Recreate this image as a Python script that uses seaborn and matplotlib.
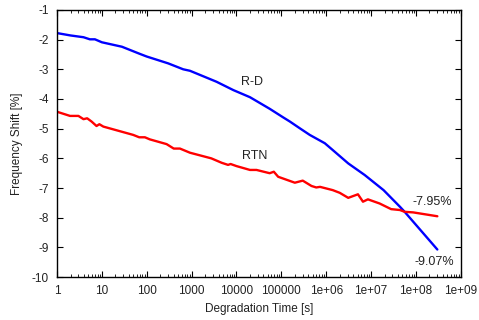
import numpy as np
import pandas as pd
import seaborn as sns
import matplotlib
matplotlib.use("Agg")
import matplotlib.pyplot as plt
from matplotlib.ticker import LogLocator, FixedLocator, FixedFormatter, NullFormatter

# R-D curve (degradation time [s], frequency shift [%])
rd_time = [1, 2, 3.9, 5.4, 7, 10, 28, 70, 100, 300, 650, 920, 3600, 8500,
           2e4, 5.5e4, 1.1e5, 1.55e5, 2.6e5, 4.3e5, 9.3e5, 1.4e6, 3.1e6,
           7.2e6, 1.9e7, 4.4e7, 5.6e7, 3e8]
rd_shift = [-1.78, -1.86, -1.92, -1.99, -1.99, -2.09, -2.24, -2.48, -2.57,
            -2.80, -3.00, -3.05, -3.42, -3.70, -3.94, -4.33, -4.62, -4.76,
            -4.99, -5.21, -5.49, -5.72, -6.17, -6.56, -7.07, -7.63, -7.80,
            -9.07]

# RTN curve
rtn_time = [1, 1.95, 3, 3.9, 4.7, 5.9, 7.6, 8.8, 10.8, 50, 68, 91, 117, 277,
            400, 550, 920, 2.75e3, 4.7e3, 6.5e3, 7.4e3, 1e4, 2e4, 2.8e4,
            5.5e4, 6.8e4, 8.5e4, 2e5, 3e5, 4.7e5, 6e5, 7.3e5, 1.4e6, 2e6,
            3.1e6, 5.1e6, 6.6e6, 8.5e6, 1.55e7, 2.8e7, 4.4e7, 5.6e7, 8.7e7,
            3e8]
rtn_shift = [-4.43, -4.57, -4.57, -4.68, -4.65, -4.76, -4.91, -4.85, -4.93,
             -5.21, -5.29, -5.29, -5.36, -5.52, -5.67, -5.67, -5.81, -6.00,
             -6.15, -6.22, -6.19, -6.26, -6.39, -6.39, -6.50, -6.45, -6.62,
             -6.82, -6.75, -6.93, -6.98, -6.96, -7.07, -7.16, -7.33, -7.21,
             -7.46, -7.38, -7.52, -7.71, -7.74, -7.80, -7.82, -7.95]

df = pd.concat([
    pd.DataFrame({"time": rd_time, "shift": rd_shift, "curve": "R-D"}),
    pd.DataFrame({"time": rtn_time, "shift": rtn_shift, "curve": "RTN"}),
])

sns.set_style("white")
plt.rcParams["font.family"] = ["Liberation Sans", "DejaVu Sans"]

fig = plt.figure(figsize=(4.79, 3.2), dpi=100)
ax = fig.add_axes([0.119, 0.134, 0.843, 0.835])
sns.lineplot(data=df, x="time", y="shift", hue="curve",
             palette={"R-D": "#0000ff", "RTN": "#ff0000"},
             estimator=None, sort=False, legend=False, linewidth=1.7, ax=ax)

ax.set_xscale("log")
ax.set_xlim(1, 1e9)
ax.set_ylim(-10, -1)

decades = [10.0 ** k for k in range(10)]
decade_labels = ["1", "10", "100", "1000", "10000", "100000",
                 "1e+06", "1e+07", "1e+08", "1e+09"]
ax.xaxis.set_major_locator(FixedLocator(decades))
ax.xaxis.set_major_formatter(FixedFormatter(decade_labels))
ax.xaxis.set_minor_locator(LogLocator(base=10, subs=np.arange(2, 10), numticks=20))
ax.xaxis.set_minor_formatter(NullFormatter())
ax.set_yticks(np.arange(-10, 0, 1))
ax.set_yticklabels([str(v) for v in range(-10, 0)])

ax.tick_params(which="both", direction="in", bottom=True, left=True,
               top=True, right=True, color="black",
               labelsize=8.5, labelcolor="#222222")
ax.tick_params(which="major", length=4, width=0.8, pad=6)
ax.tick_params(which="minor", length=2, width=0.6)
for sp in ax.spines.values():
    sp.set_color("black")
    sp.set_linewidth(1.0)

ax.set_xlabel("Degradation Time [s]", fontsize=8.5, color="#222222", labelpad=4)
ax.set_ylabel("Frequency Shift [%]", fontsize=8.5, color="#222222", labelpad=6)

ax.text(10 ** 4.34, -3.42, "R-D", fontsize=9, color="#222222", ha="center", va="center")
ax.text(10 ** 4.41, -5.91, "RTN", fontsize=9, color="#222222", ha="center", va="center")
ax.text(10 ** 8.37, -7.47, "-7.95%", fontsize=9, color="#222222", ha="center", va="center")
ax.text(10 ** 8.42, -9.49, "-9.07%", fontsize=9, color="#222222", ha="center", va="center")

fig.savefig("out.png", dpi=100)
